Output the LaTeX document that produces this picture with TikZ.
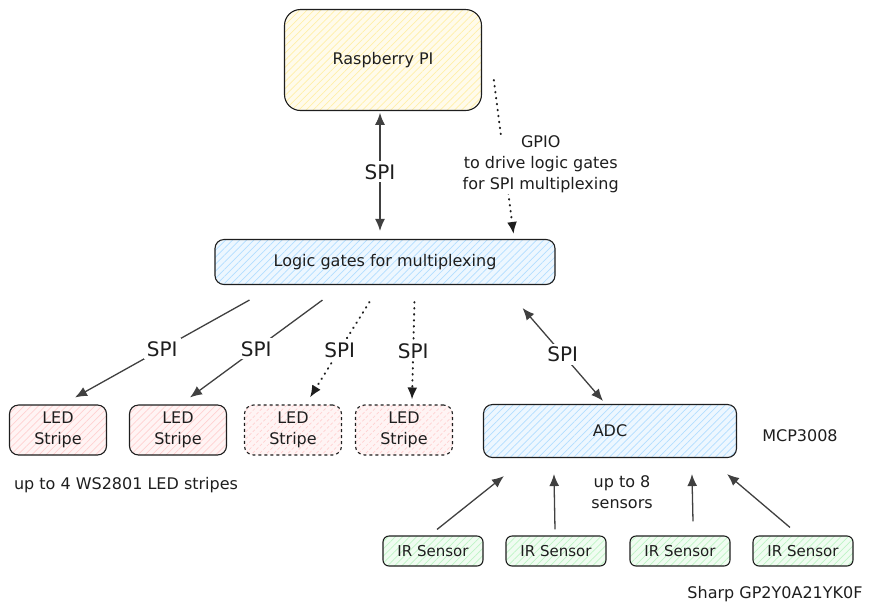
\documentclass[tikz,border=0pt]{standalone}
\usepackage{fontspec}
\setmainfont{DejaVu Sans}
\usetikzlibrary{arrows.meta,patterns.meta}

\definecolor{ink}{HTML}{1E1E1E}
\definecolor{piyellow}{HTML}{FFEC99}
\definecolor{gateblue}{HTML}{A5D8FF}
\definecolor{ledpink}{HTML}{FFC9C9}
\definecolor{irgreen}{HTML}{B2F2BB}

\begin{document}
\begin{tikzpicture}[
  x=1pt,
  y=-1pt,
  sketch box/.style={
    draw=ink,
    line width=1.1pt,
    rounded corners=9pt,
    align=center,
    inner sep=2pt,
    text=ink,
    font=\fontsize{16}{21}\selectfont,
  },
  hatch/.style={
    preaction={fill=#1!20},
    pattern={Lines[angle=45,distance=5pt,line width=0.7pt]},
    pattern color=#1!85,
  },
  pi box/.style={
    sketch box,
    hatch=piyellow,
    rounded corners=16pt,
    minimum width=197pt,
    minimum height=101pt,
  },
  gate box/.style={
    sketch box,
    hatch=gateblue,
    minimum width=340pt,
    minimum height=45pt,
  },
  led box/.style={
    sketch box,
    hatch=ledpink,
    minimum width=97pt,
    minimum height=50pt,
  },
  led spare/.style={
    led box,
    dash pattern=on 3pt off 3pt,
  },
  adc box/.style={
    sketch box,
    hatch=gateblue,
    minimum width=253pt,
    minimum height=53pt,
  },
  ir box/.style={
    sketch box,
    hatch=irgreen,
    rounded corners=6pt,
    minimum width=100pt,
    minimum height=30pt,
    font=\fontsize{15}{19}\selectfont,
  },
  note/.style={
    align=center,
    text=ink,
    font=\fontsize{16}{21}\selectfont,
  },
  bus label/.style={
    fill=white,
    inner sep=3pt,
    text=ink,
    font=\fontsize{20}{23}\selectfont,
  },
  link/.style={
    draw=ink!85,
    line width=1.3pt,
    -{Latex[length=12pt,width=10pt]},
  },
  spi link/.style={
    link,
  },
  dotted link/.style={
    link,
    draw=ink,
    line width=2pt,
    line cap=round,
    dash pattern=on 0.6pt off 5.4pt,
  },
]
\useasboundingbox (0,0) rectangle (869,614);

% boxes
\node[pi box] (pi) at (383,60) {Raspberry PI};
\node[gate box] (gates) at (385,262) {Logic gates for multiplexing};

\node[led box] (led1) at (58,430) {LED\\Stripe};
\node[led box] (led2) at (178,430) {LED\\Stripe};
\node[led spare] (led3) at (293,430) {LED\\Stripe};
\node[led spare] (led4) at (404,430) {LED\\Stripe};

\node[adc box] (adc) at (610,431) {ADC};

\node[ir box] (ir1) at (433,551) {IR Sensor};
\node[ir box] (ir2) at (556,551) {IR Sensor};
\node[ir box] (ir3) at (680,551) {IR Sensor};
\node[ir box] (ir4) at (803,551) {IR Sensor};

% notes
\node[note] (mcp) at (800,436) {MCP3008};
\node[note] (ledcount) at (126,485) {up to 4 WS2801 LED stripes};
\node[note] (ircount) at (622,492) {up to 8\\sensors};
\node[note] (sharp) at (775,594) {Sharp GP2Y0A21YK0F};

% pi <-> gates
\draw[spi link, {Latex[length=12pt,width=10pt]}-{Latex[length=12pt,width=10pt]}]
  ([shift={(-3,2)}]pi.south) -- node[bus label] {SPI} ([shift={(-5,-8)}]gates.north);
\draw[dotted link]
  ([shift={(12,20)}]pi.east) -- node[note, fill=white, pos=.55, xshift=36pt, inner sep=1pt]
  {GPIO\\to drive logic gates\\for SPI multiplexing} ([shift={(-42,-5)}]gates.north east);

% gates -> led stripes
\draw[spi link] (gates.south west) ++(35,15) -- node[bus label] {SPI} ([shift={(17,-7)}]led1.north);
\draw[spi link] (gates.south west) ++(108,15) -- node[bus label] {SPI} ([shift={(12,-7)}]led2.north);
\draw[dotted link] (gates.south west) ++(155,17) -- node[bus label] {SPI} ([shift={(17,-7)}]led3.north);
\draw[dotted link] (gates.south west) ++(200,17) -- node[bus label] {SPI} ([shift={(8,-5)}]led4.north);

% gates <-> adc
\draw[spi link, {Latex[length=12pt,width=10pt]}-{Latex[length=12pt,width=10pt]}]
  ([shift={(-33,23)}]gates.south east) -- node[bus label] {SPI} ([shift={(-7,-3)}]adc.north);

% sensors -> adc
\draw[link] ([shift={(4,-6)}]ir1.north) -- ([shift={(21,18)}]adc.south west);
\draw[link] ([shift={(-1,-6)}]ir2.north) -- ([shift={(71,16)}]adc.south west);
\draw[link] ([shift={(13,-14)}]ir3.north) -- ([shift={(209,16)}]adc.south west);
\draw[link] ([shift={(-13,-8)}]ir4.north) -- ([shift={(-10,16)}]adc.south east);
\end{tikzpicture}
\end{document}
